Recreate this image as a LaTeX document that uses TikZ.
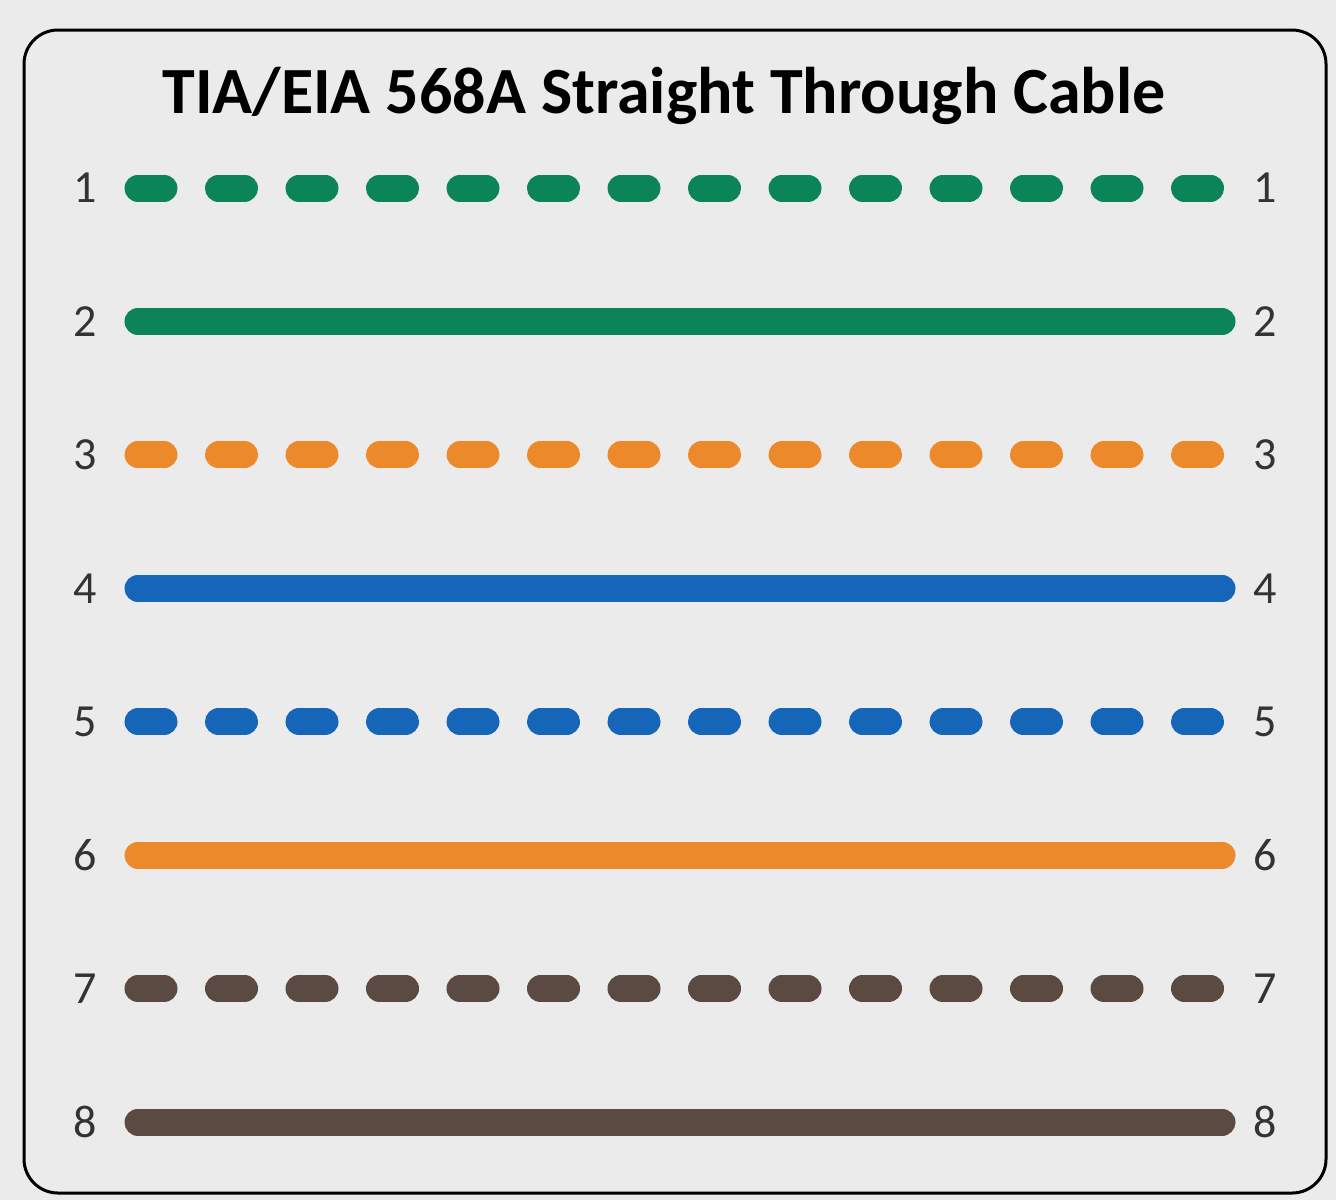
\documentclass[tikz,border=0pt]{standalone}
\usepackage{fontspec}
\setmainfont{Carlito}
\usepackage{tikz}
\usetikzlibrary{positioning}
\definecolor{bggray}{HTML}{EBEBEB}
\definecolor{pingray}{HTML}{333333}
\definecolor{wgreen}{HTML}{0B8457}
\definecolor{worange}{HTML}{EC8A2B}
\definecolor{wblue}{HTML}{1565B8}
\definecolor{wbrown}{HTML}{5B4A42}

\begin{document}
\begin{tikzpicture}[x=0.5pt,y=-0.5pt,
    pin/.style={inner sep=0pt,font=\fontsize{23}{23}\selectfont,text=pingray},
    wire/.style={line width=13.5pt,line cap=round},
    pair/.style={wire,dash pattern=on 13pt off 27.25pt}]
  \useasboundingbox[fill=bggray] (0,0) rectangle (1336,1200);
  \draw[line width=1.5pt,rounded corners=17pt] (24,30) rectangle (1326,1193);
  \node[anchor=base,font=\bfseries\fontsize{33}{33}\selectfont](title) at (664,113) {TIA/EIA 568A Straight Through Cable};
  % pins and wires
  \foreach \i/\c/\s in {1/wgreen/pair,2/wgreen/wire,3/worange/pair,4/wblue/wire,
                        5/wblue/pair,6/worange/wire,7/wbrown/pair,8/wbrown/wire}{
    \node[pin](l\i) at (85,{188+(\i-1)*133.43}) {\i};
    \node[pin](r\i) at (1265,{188+(\i-1)*133.43}) {\i};
    \coordinate (a\i) at (138,{188+(\i-1)*133.43});
    \coordinate (b\i) at (1222,{188+(\i-1)*133.43});
    \draw[\s,draw=\c] (a\i) -- (b\i);
  }
\end{tikzpicture}
\end{document}
